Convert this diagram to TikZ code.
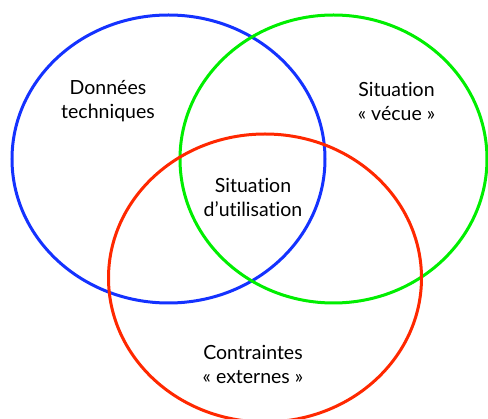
\documentclass[tikz,border=0pt]{standalone}
\usepackage{fontspec}
\setmainfont[Ligatures=NoCommon]{Lato}
\usepackage{tikz}
\definecolor{vblue}{RGB}{20,50,255}
\definecolor{vgreen}{RGB}{0,238,0}
\definecolor{vred}{RGB}{255,40,0}

\begin{document}
\begin{tikzpicture}[x=1pt,y=-1pt,
    ring/.style={line width=3pt},
    lbl/.style={align=center, font=\fontsize{19.5}{24}\selectfont, inner sep=0pt}]
    \useasboundingbox (0,0) rectangle (488,419);

    % the three sets
    \draw[ring, vblue]  (168.5,159) ellipse [x radius=156.5, y radius=144];
    \draw[ring, vgreen] (333.5,159) ellipse [x radius=153.5, y radius=144];
    \draw[ring, vred]   (265,278)   ellipse [x radius=156.5, y radius=144];

    % labels
    \node[lbl] (donnees)     at (108,101) {Données\\techniques};
    \node[lbl] (vecue)       at (396.5,101) {Situation\\« vécue »};
    \node[lbl] (utilisation) at (253,197) {Situation\\d’utilisation};
    \node[lbl] (externes)    at (253,364) {Contraintes\\« externes »};
\end{tikzpicture}
\end{document}
